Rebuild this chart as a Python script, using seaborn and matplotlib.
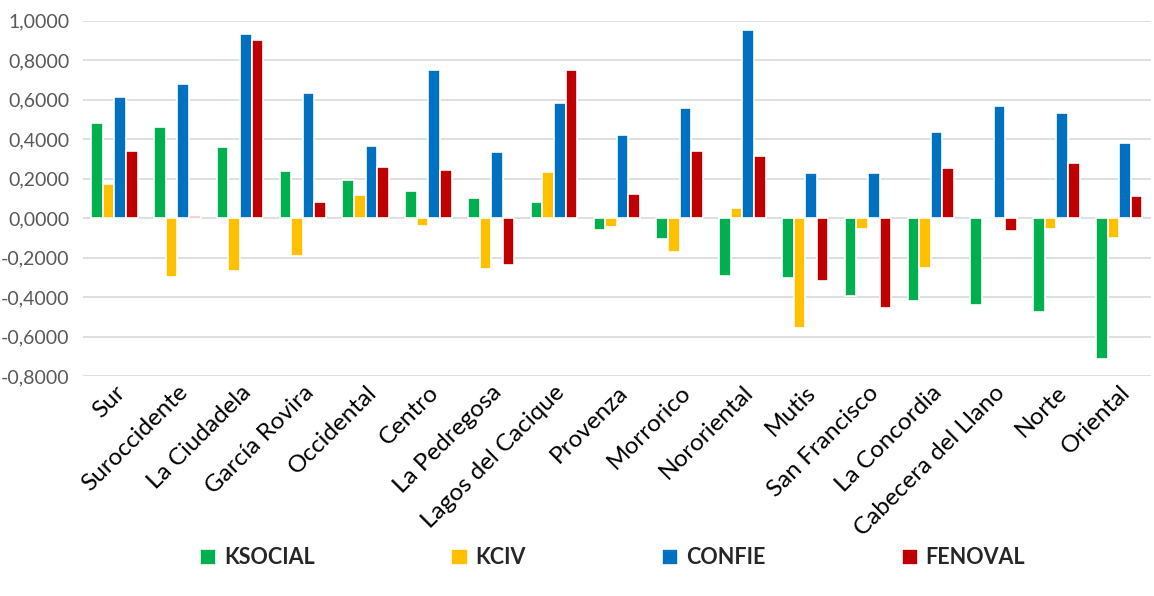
import pandas as pd
import matplotlib
matplotlib.use("Agg")
import matplotlib.pyplot as plt
import seaborn as sns
from matplotlib.ticker import FuncFormatter

# Data
comunas = ["Sur", "Suroccidente", "La Ciudadela", "García Rovira", "Occidental",
           "Centro", "La Pedregosa", "Lagos del Cacique", "Provenza", "Morrorico",
           "Nororiental", "Mutis", "San Francisco", "La Concordia",
           "Cabecera del Llano", "Norte", "Oriental"]
ksocial = [0.484, 0.460, 0.359, 0.240, 0.195, 0.139, 0.103, 0.083, -0.059, -0.105,
           -0.293, -0.301, -0.394, -0.418, -0.440, -0.477, -0.712]
kciv = [0.174, -0.300, -0.267, -0.191, 0.118, -0.037, -0.259, 0.235, -0.044, -0.171,
        0.054, -0.555, -0.054, -0.250, -0.005, -0.054, -0.098]
confie = [0.613, 0.682, 0.931, 0.636, 0.367, 0.750, 0.335, 0.582, 0.420, 0.558,
          0.954, 0.228, 0.230, 0.438, 0.569, 0.531, 0.379]
fenoval = [0.342, 0.012, 0.905, 0.080, 0.259, 0.244, -0.235, 0.753, 0.125, 0.342,
           0.316, -0.316, -0.455, 0.252, -0.064, 0.279, 0.113]

series = {"KSOCIAL": ksocial, "KCIV": kciv, "CONFIE": confie, "FENOVAL": fenoval}
colors = ["#00B050", "#FFC000", "#0070C0", "#C00000"]

df = pd.DataFrame(
    [{"comuna": c, "indice": name, "valor": v}
     for name, vals in series.items() for c, v in zip(comunas, vals)]
)

sns.set_theme(style="white")
plt.rcParams["font.family"] = ["Lato", "DejaVu Sans"]

fig, ax = plt.subplots(figsize=(11.54, 5.96), dpi=100)
fig.subplots_adjust(left=0.072, right=0.997, top=0.965, bottom=0.369)

sns.barplot(data=df, x="comuna", y="valor", hue="indice", palette=colors,
            saturation=1, width=0.74, edgecolor="white", linewidth=1.2,
            ax=ax, zorder=3)

ax.set_ylim(-0.8, 1.0)
ax.set_yticks([-0.8 + 0.2 * i for i in range(10)])
ax.yaxis.set_major_formatter(FuncFormatter(lambda v, p: f"{v:.4f}".replace(".", ",")
                                           .replace("-0,0000", "0,0000")))
ax.grid(axis="y", color="#d9d9d9", linewidth=1.2, zorder=0)
ax.set_xlim(-0.5, len(comunas) - 0.5)
ax.set_xlabel("")
ax.set_ylabel("")
for s in ax.spines.values():
    s.set_visible(False)
ax.tick_params(axis="x", length=0, pad=4)
ax.tick_params(axis="y", length=0, pad=10, labelsize=14, labelcolor="#595959")
plt.setp(ax.get_xticklabels(), rotation=45, ha="right", rotation_mode="anchor",
         fontsize=17.5, color="#000000")

handles, labels = ax.get_legend_handles_labels()
ax.get_legend().remove()
leg = fig.legend(handles, labels, loc="center", bbox_to_anchor=(0.531, 0.064), ncol=4,
                 frameon=False, handlelength=0.75, handleheight=0.75, handletextpad=0.35,
                 columnspacing=6.35, prop={"weight": "bold", "size": 15.5})

fig.savefig("out.png", dpi=100)
